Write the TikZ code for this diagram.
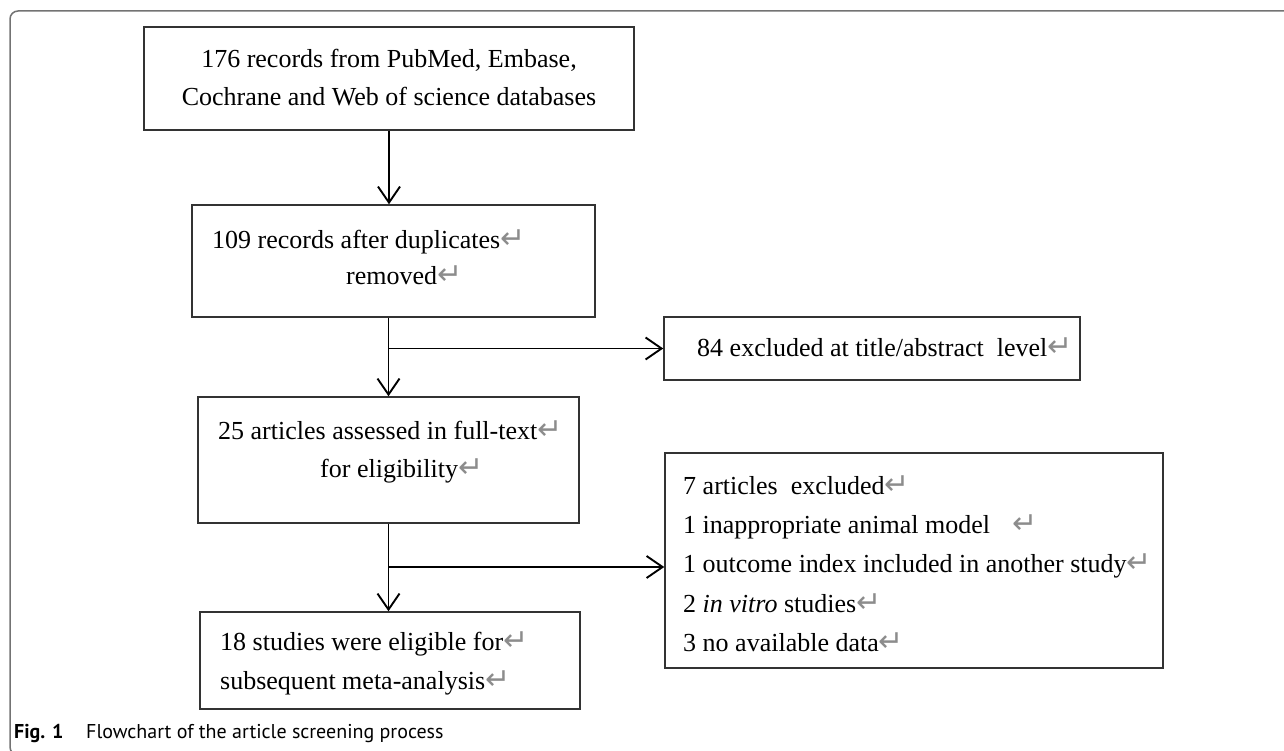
\documentclass[tikz,border=0pt]{standalone}
\usepackage{fontspec}
\setmainfont{Liberation Serif}
\newfontfamily\capfont{PT Sans}
\newfontfamily\symfont{DejaVu Sans}
\usetikzlibrary{arrows.meta}
\definecolor{retgray}{gray}{0.55}
\definecolor{framegray}{gray}{0.45}
\definecolor{boxline}{gray}{0.2}
\newcommand{\rt}{{\symfont\fontsize{30}{30}\selectfont\color{retgray}↵}}
\begin{document}
\begin{tikzpicture}[x=1pt,y=-1pt,
  box/.style={draw=boxline, line width=1.5pt, rectangle, inner sep=0pt},
  txt/.style={font=\fontsize{26}{30}\selectfont, inner sep=0pt, anchor=base west},
  ctxt/.style={font=\fontsize{26}{30}\selectfont, inner sep=0pt, anchor=base},
  captxt/.style={font=\capfont\fontsize{20}{22}\selectfont, inner sep=0pt, anchor=base west},
  arr/.style={line width=1.9pt, -{Straight Barb[length=16pt,width=22pt]}}]
\useasboundingbox (0,0) rectangle (1284,751);
% outer frame
\draw[framegray, line width=1.5pt, rounded corners=8pt] (1300,11) -- (10,11) -- (10,755) -- (40,755);

% boxes
\node[box, minimum width=490pt, minimum height=103pt] (b1) at (389,78.5) {};
\node[box, minimum width=403pt, minimum height=112pt] (b2) at (393.5,261) {};
\node[box, minimum width=416pt, minimum height=63pt] (b3) at (872,348.5) {};
\node[box, minimum width=381pt, minimum height=126pt] (b4) at (388.5,460) {};
\node[box, minimum width=380pt, minimum height=97pt] (b5) at (390,660.5) {};
\node[box, minimum width=498pt, minimum height=215pt] (b6) at (914,560.5) {};

% texts
\node[ctxt] (t1a) at (389,68) {176 records from PubMed, Embase,};
\node[ctxt] (t1b) at (389,106) {Cochrane and Web of science databases};
\node[txt] (t2a) at (212,249) {109 records after duplicates\rt};
\node[txt] (t2b) at (346,284) {removed\rt};
\node[txt] (t3) at (697,356) {84 excluded at title/abstract\ \ level\rt};
\node[txt] (t4a) at (218,439) {25 articles assessed in full-text\rt};
\node[txt] (t4b) at (320,477) {for eligibility\rt};
\node[txt] (t5a) at (220,650) {18 studies were eligible\ for\rt};
\node[txt] (t5b) at (220,689) {subsequent meta-analysis\rt};
\node[txt] (t6a) at (683,494) {7 articles\ \ excluded\rt};
\node[txt] (t6b) at (683,533) {1 inappropriate animal model\hspace{22pt}\rt};
\node[txt] (t6c) at (683,572) {1 outcome index included in another study\rt};
\node[txt] (t6d) at (683,612) {2 \textit{in vitro} studies\rt};
\node[txt] (t6e) at (683,651) {3 no available data\rt};

% caption
\node[captxt] (capa) at (14,738) {\bfseries Fig. 1};
\node[captxt] (capb) at (86,738) {Flowchart of the article screening process};

% connectors
\draw[arr] (b1.south) -- (b1.south |- b2.north);
\draw[arr] (b4.north |- b2.south) -- (b4.north);
\coordinate (j1) at (b4.north |- b3.west);
\draw[arr] (j1) -- (b3.west);
\draw[arr] (b4.south) -- (b4.south |- b5.north);
\coordinate (j2) at (388.5,567);
\draw[arr] (j2) -- (j2 -| b6.west);
\end{tikzpicture}
\end{document}
